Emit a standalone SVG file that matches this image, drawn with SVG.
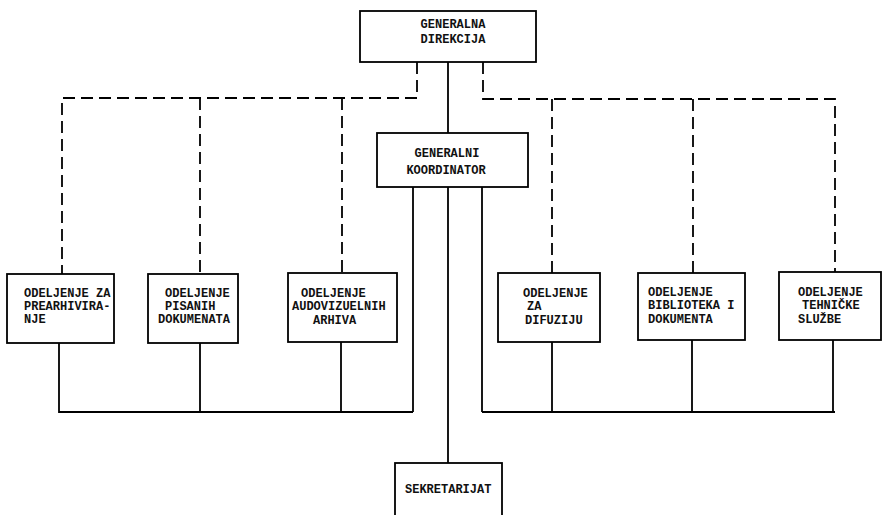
<svg xmlns="http://www.w3.org/2000/svg" width="883" height="515" viewBox="0 0 883 515">
<style>
.box{fill:#fff;stroke:#000;stroke-width:1.8}
.t{font-family:"Liberation Mono","DejaVu Sans Mono",monospace;font-size:12px;font-weight:bold;fill:#111}
.m{text-anchor:middle}
.s{fill:none;stroke:#000;stroke-width:1.8}
.d{fill:none;stroke:#000;stroke-width:1.8;stroke-dasharray:12 6}
</style>
<rect width="883" height="515" fill="#fff"/>
<g id="connectors">
<path class="d" d="M417,62V98H62V274M200,98V274M342,98V273"/>
<path class="d" d="M483,62V99H835V272M552,99V273M693,99V273"/>
<path class="s" d="M448,62V133M448,187V463M413,187V412M482,187V412"/>
<path class="s" d="M59,343V412H413M200,343V412M341,342V412"/>
<path class="s" d="M482,412H835M552,342V412M692,340V412M833,340V412"/>
</g>
<g id="generalna-direkcija">
<rect class="box" x="360" y="11" width="176" height="51"/>
<text class="t m" x="453" y="28">GENERALNA</text>
<text class="t m" x="453" y="43">DIREKCIJA</text>
</g>
<g id="generalni-koordinator">
<rect class="box" x="377" y="133" width="151" height="54"/>
<text class="t m" x="447" y="157">GENERALNI</text>
<text class="t m" x="446" y="174">KOORDINATOR</text>
</g>
<g id="prearhiviranje">
<rect class="box" x="7" y="274" width="107" height="69"/>
<text class="t" x="24" y="297">ODELJENJE ZA</text>
<text class="t" x="24" y="310">PREARHIVIRA-</text>
<text class="t" x="24" y="323">NJE</text>
</g>
<g id="pisanih-dokumenata">
<rect class="box" x="148" y="274" width="90" height="69"/>
<text class="t" x="165" y="297">ODELJENJE</text>
<text class="t" x="165" y="310">PISANIH</text>
<text class="t" x="158" y="323">DOKUMENATA</text>
</g>
<g id="audiovizuelnih-arhiva">
<rect class="box" x="288" y="273" width="109" height="69"/>
<text class="t" x="301" y="297">ODELJENJE</text>
<text class="t" x="292" y="310">AUDOVIZUELNIH</text>
<text class="t" x="313" y="324">ARHIVA</text>
</g>
<g id="difuziju">
<rect class="box" x="498" y="273" width="102" height="69"/>
<text class="t" x="523" y="297">ODELJENJE</text>
<text class="t" x="527" y="310">ZA</text>
<text class="t" x="525" y="324">DIFUZIJU</text>
</g>
<g id="biblioteka-dokumenta">
<rect class="box" x="638" y="273" width="107" height="67"/>
<text class="t" x="648" y="296">ODELJENJE</text>
<text class="t" x="648" y="309">BIBLIOTEKA I</text>
<text class="t" x="648" y="323">DOKUMENTA</text>
</g>
<g id="tehnicke-sluzbe">
<rect class="box" x="779" y="272" width="102" height="68"/>
<text class="t" x="798" y="296">ODELJENJE</text>
<text class="t" x="802" y="309">TEHNIČKE</text>
<text class="t" x="798" y="323">SLUŽBE</text>
</g>
<g id="sekretarijat">
<rect class="box" x="395" y="463" width="107" height="60"/>
<text class="t" x="405" y="493">SEKRETARIJAT</text>
</g>
</svg>
